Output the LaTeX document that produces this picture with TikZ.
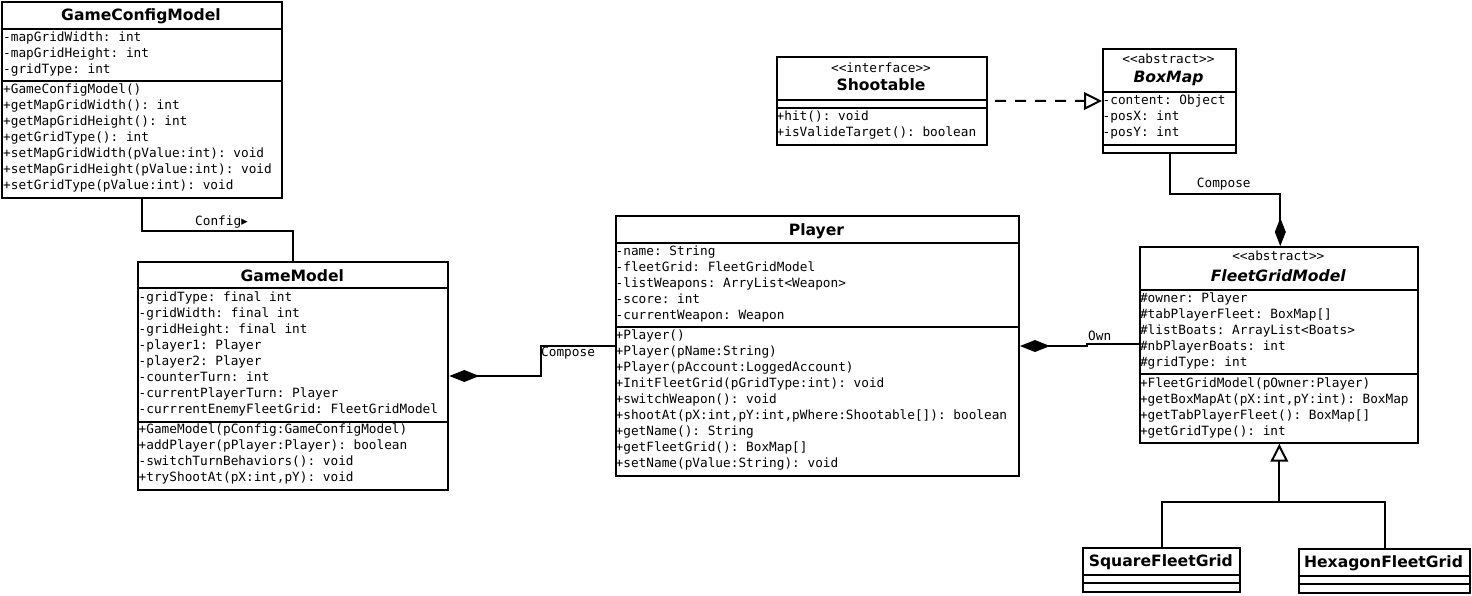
\documentclass[tikz,border=0pt]{standalone}
\usepackage{fontspec}
\setsansfont{DejaVu Sans}
\setmonofont{DejaVu Sans Mono}
\usetikzlibrary{arrows.meta}

\newcommand\memberfont{\ttfamily\fontsize{12.75}{16}\selectfont}
\newcommand\namefont{\sffamily\bfseries\fontsize{15.6}{18}\selectfont}
\newcommand\absnamefont{\sffamily\bfseries\itshape\fontsize{15.6}{18}\selectfont}

\tikzset{
  classbox/.style={draw, line width=2pt, fill=white, rectangle, inner sep=0pt, anchor=north west},
  compsep/.style={line width=2pt},
  members/.style={anchor=north west, inner sep=0pt, align=left, font=\memberfont, execute at begin node=\strut},
  cname/.style={anchor=base, inner sep=0pt, font=\namefont},
  aname/.style={anchor=base, inner sep=0pt, font=\absnamefont},
  stereo/.style={anchor=base, inner sep=0pt, font=\memberfont},
  link/.style={line width=2pt},
  linklabel/.style={anchor=base west, inner sep=0pt, font=\memberfont},
  comp/.style={{Diamond[length=30pt,width=12pt]}-},
  compdown/.style={-{Diamond[length=28pt,width=11pt]}},
  realize/.style={dash pattern=on 11pt off 9pt, dash phase=13pt, -{Triangle[open,length=18pt,width=17.6pt]}},
  inherit/.style={-{Triangle[open,length=18pt,width=17.6pt]}},
}

\begin{document}
\begin{tikzpicture}[x=1pt,y=-1pt]
\useasboundingbox (0,0) rectangle (1472,595);
\fill[white] (0,0) rectangle (1472,595);

% ---------- GameConfigModel ----------
\node[classbox, minimum width=280pt, minimum height=196pt] (gcm) at (1,1) {};
\draw[compsep] (gcm.west |- 0,29) -- (gcm.east |- 0,29);
\draw[compsep] (gcm.west |- 0,81) -- (gcm.east |- 0,81);
\node[cname] (gcmName) at (141,20) {GameConfigModel};
\node[members] (gcmAttr) at (3,31.5) {-mapGridWidth: int\\-mapGridHeight: int\\-gridType: int};
\node[members] (gcmOps) at (3,83.1) {+GameConfigModel()\\+getMapGridWidth(): int\\+getMapGridHeight(): int\\+getGridType(): int\\+setMapGridWidth(pValue:int): void\\+setMapGridHeight(pValue:int): void\\+setGridType(pValue:int): void};

% ---------- GameModel ----------
\node[classbox, minimum width=310pt, minimum height=228pt] (gm) at (137.3,261) {};
\draw[compsep] (gm.west |- 0,288.3) -- (gm.east |- 0,288.3);
\draw[compsep] (gm.west |- 0,421.7) -- (gm.east |- 0,421.7);
\node[cname] (gmName) at (292.3,281) {GameModel};
\node[members] (gmAttr) at (138.5,291.1) {-gridType: final int\\-gridWidth: final int\\-gridHeight: final int\\-player1: Player\\-player2: Player\\-counterTurn: int\\-currentPlayerTurn: Player\\-currrentEnemyFleetGrid: FleetGridModel};
\node[members] (gmOps) at (138.5,423.8) {+GameModel(pConfig:GameConfigModel)\\+addPlayer(pPlayer:Player): boolean\\-switchTurnBehaviors(): void\\+tryShootAt(pX:int,pY): void};

% ---------- Player ----------
\node[classbox, minimum width=403pt, minimum height=260pt] (pl) at (615,215) {};
\draw[compsep] (pl.west |- 0,243.3) -- (pl.east |- 0,243.3);
\draw[compsep] (pl.west |- 0,327.3) -- (pl.east |- 0,327.3);
\node[cname] (plName) at (816.5,235) {Player};
\node[members] (plAttr) at (615.5,246.1) {-name: String\\-fleetGrid: FleetGridModel\\-listWeapons: ArryList<Weapon>\\-score: int\\-currentWeapon: Weapon};
\node[members] (plOps) at (615.5,329.8) {+Player()\\+Player(pName:String)\\+Player(pAccount:LoggedAccount)\\+InitFleetGrid(pGridType:int): void\\+switchWeapon(): void\\+shootAt(pX:int,pY:int,pWhere:Shootable[]): boolean\\+getName(): String\\+getFleetGrid(): BoxMap[]\\+setName(pValue:String): void};

% ---------- Shootable ----------
\node[classbox, minimum width=210pt, minimum height=87.5pt] (sh) at (776,56) {};
\draw[compsep] (sh.west |- 0,100) -- (sh.east |- 0,100);
\draw[compsep] (sh.west |- 0,107.7) -- (sh.east |- 0,107.7);
\node[stereo] (shStereo) at (881,72.3) {<<interface>>};
\node[cname] (shName) at (881,90.7) {Shootable};
\node[members] (shOps) at (776.5,110.5) {+hit(): void\\+isValideTarget(): boolean};

% ---------- BoxMap ----------
\node[classbox, minimum width=133pt, minimum height=103.4pt] (bm) at (1102,48.3) {};
\draw[compsep] (bm.west |- 0,92.3) -- (bm.east |- 0,92.3);
\draw[compsep] (bm.west |- 0,145) -- (bm.east |- 0,145);
\node[stereo] (bmStereo) at (1168.5,63.3) {<<abstract>>};
\node[aname] (bmName) at (1168.5,82.7) {BoxMap};
\node[members] (bmAttr) at (1102.5,94.5) {-content: Object\\-posX: int\\-posY: int};

% ---------- FleetGridModel ----------
\node[classbox, minimum width=278pt, minimum height=195.7pt] (fgm) at (1139.3,246) {};
\draw[compsep] (fgm.west |- 0,290) -- (fgm.east |- 0,290);
\draw[compsep] (fgm.west |- 0,374.3) -- (fgm.east |- 0,374.3);
\node[stereo] (fgmStereo) at (1278.3,260.7) {<<abstract>>};
\node[aname] (fgmName) at (1278.3,281) {FleetGridModel};
\node[members] (fgmAttr) at (1139.8,292.1) {\#owner: Player\\\#tabPlayerFleet: BoxMap[]\\\#listBoats: ArrayList<Boats>\\\#nbPlayerBoats: int\\\#gridType: int};
\node[members] (fgmOps) at (1139.8,377.1) {+FleetGridModel(pOwner:Player)\\+getBoxMapAt(pX:int,pY:int): BoxMap\\+getTabPlayerFleet(): BoxMap[]\\+getGridType(): int};

% ---------- SquareFleetGrid ----------
\node[classbox, minimum width=157pt, minimum height=44pt] (sq) at (1082.3,546.7) {};
\draw[compsep] (sq.west |- 0,575) -- (sq.east |- 0,575);
\draw[compsep] (sq.west |- 0,582.7) -- (sq.east |- 0,582.7);
\node[cname] (sqName) at (1160.8,566.7) {SquareFleetGrid};

% ---------- HexagonFleetGrid ----------
\node[classbox, minimum width=171.6pt, minimum height=44pt] (hx) at (1297.7,547.7) {};
\draw[compsep] (hx.west |- 0,576) -- (hx.east |- 0,576);
\draw[compsep] (hx.west |- 0,584) -- (hx.east |- 0,584);
\node[cname] (hxName) at (1383.5,567.7) {HexagonFleetGrid};

% ---------- relations ----------
% GameModel uses GameConfigModel
\draw[link] ([xshift=140.7pt]gcm.south west) -- ++(0,32) -| ([xshift=156pt]gm.north west);
\node[linklabel] (cfgLabel) at (195,225) {Config{\sffamily ▸}};

% GameModel composes Player
\draw[link, comp] (gm.east) -- ++(92,0) |- (pl.west);
\node[linklabel] (gmplLabel) at (541,356) {Compose};

% Player owns FleetGridModel
\draw[link, comp] (pl.east) -- ++(67,0) |- ([yshift=1pt]fgm.west);
\node[linklabel] (ownLabel) at (1088,340) {Own};

% Shootable realised by BoxMap
\draw[link, realize] (sh.east) -- (bm.west);

% FleetGridModel composes BoxMap
\draw[link, compdown] (bm.south) -- ++(0,40) -| ([xshift=1pt]fgm.north);
\node[linklabel] (bmLabel) at (1196.7,187.3) {Compose};

% subclasses of FleetGridModel
\coordinate (join) at (1279.3,502.3);
\draw[link] (sq.north) |- (join) -| (hx.north);
\draw[link, inherit] (join) -- (join |- fgm.south);
\end{tikzpicture}
\end{document}
